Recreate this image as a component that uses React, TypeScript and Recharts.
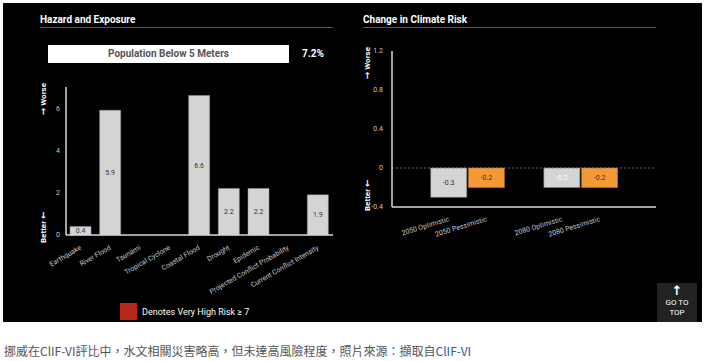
import React from 'react';
import { BarChart, Bar, XAxis, YAxis, Cell, LabelList, ReferenceLine } from 'recharts';

const hazardCategories = ['Earthquake', 'River Flood', 'Tsunami', 'Tropical Cyclone', 'Coastal Flood', 'Drought', 'Epidemic', 'Projected Conflict Probability', 'Current Conflict Intensity'];
const hazardValues = [0.4, 5.9, 0, 0, 6.6, 2.2, 2.2, 0, 1.9];
const hazardTicks = [0, 2, 4, 6];

const riskCategories = ['', '2050 Optimistic', '2050 Pessimistic', ' ', '2080 Optimistic', '2080 Pessimistic', '  '];
const riskValues: (number | null)[] = [null, -0.3, -0.2, null, -0.2, -0.2, null];
const riskScenario = ['', 'optimistic', 'pessimistic', '', 'optimistic', 'pessimistic', ''];
const riskTicks = [-0.4, 0, 0.4, 0.8, 1.2];

const populationLabel = 'Population Below 5 Meters';
const populationValue = '7.2%';

const hazardData = hazardCategories.map((name, i) => ({ name, value: hazardValues[i] }));
const riskData = riskCategories.map((name, i) => ({ name, value: riskValues[i], scenario: riskScenario[i] }));

const FONT = 'Roboto, "Noto Sans", sans-serif';
const ARROW_FONT = '"DejaVu Sans", sans-serif';
const GRAY = '#d4d4d4';
const ORANGE = '#f39a36';
const AXIS = '#d8d8d8';

const LeftTick = (props: any) => {
  const { x, y, payload } = props;
  const tx = x + 1;
  const ty = y + 6;
  return (
    <text x={tx} y={ty} transform={`rotate(-30 ${tx} ${ty})`} textAnchor="end" fill="#c8c8c8" fontSize={7} fontFamily={FONT}>
      {payload.value}
    </text>
  );
};

const RightTick = (props: any) => {
  const { x, y, payload } = props;
  const tx = x + 1;
  const ty = y + 6;
  return (
    <text x={tx} y={ty} transform={`rotate(-17 ${tx} ${ty})`} textAnchor="end" fill="#c8c8c8" fontSize={7} fontFamily={FONT}>
      {payload.value}
    </text>
  );
};

const makeSideLabel = (dxBase: number, topOff: number, botOff: number) => (props: any) => {
  const vb = props.viewBox || {};
  const x0 = vb.x + dxBase;
  const yTop = vb.y + topOff;
  const yBot = vb.y + vb.height + botOff;
  return (
    <g>
      <text x={x0} y={yTop} transform={`rotate(-90 ${x0} ${yTop})`} textAnchor="end" fill="#fff" fontSize={8} fontWeight={700} fontFamily={FONT}>
        <tspan fontFamily={ARROW_FONT} fontSize={9}>→</tspan> Worse
      </text>
      <text x={x0} y={yBot} transform={`rotate(-90 ${x0} ${yBot})`} textAnchor="start" fill="#fff" fontSize={8} fontWeight={700} fontFamily={FONT}>
        Better <tspan fontFamily={ARROW_FONT} fontSize={9}>←</tspan>
      </text>
    </g>
  );
};

const HazardLabel = (props: any) => {
  const { x, y, width, height, value } = props;
  if (value === 0) {
    return (
      <text x={x + width / 2} y={y - 0.5} textAnchor="middle" fill="#777" fontSize={4} fontFamily={FONT}>
        0.0
      </text>
    );
  }
  return (
    <text x={x + width / 2} y={y + height / 2} dy={2.5} textAnchor="middle" fill="#333" fontSize={7} fontFamily={FONT}>
      {value}
    </text>
  );
};

const RiskLabel = (props: any) => {
  const { x, y, width, height, value, index } = props;
  if (value === null || value === undefined) return null;
  const fill = riskScenario[index] === 'pessimistic' ? '#fff' : '#333';
  return (
    <text x={x + width / 2} y={y + height / 2} dy={2.5} textAnchor="middle" fill={fill} fontSize={7} fontFamily={FONT}>
      {value}
    </text>
  );
};

export default function App() {
  return (
    <div style={{ position: 'absolute', left: 0, top: 0, width: 709, height: 361, background: '#fff', overflow: 'hidden', fontFamily: FONT }}>
      <div style={{ position: 'absolute', left: 3, top: 3, width: 699, height: 319, background: '#000' }} />

      {/* Left panel header */}
      <div style={{ position: 'absolute', left: 40, top: 14, color: '#fff', fontSize: 10, fontWeight: 700, lineHeight: '12px' }}>Hazard and Exposure</div>
      <div style={{ position: 'absolute', left: 40, top: 27, width: 293, height: 1, background: '#555' }} />
      <div style={{ position: 'absolute', left: 48, top: 45, width: 241, height: 18, background: '#fff', color: '#555', fontSize: 10, fontWeight: 700, lineHeight: '18px', textAlign: 'center' }}>
        {populationLabel}
      </div>
      <div style={{ position: 'absolute', left: 302, top: 48, color: '#fff', fontSize: 10, fontWeight: 700, lineHeight: '12px' }}>{populationValue}</div>

      {/* Right panel header */}
      <div style={{ position: 'absolute', left: 363, top: 14, color: '#fff', fontSize: 10, fontWeight: 700, lineHeight: '12px' }}>Change in Climate Risk</div>
      <div style={{ position: 'absolute', left: 363, top: 27, width: 293, height: 1, background: '#555' }} />

      {/* Left chart */}
      <div style={{ position: 'absolute', left: 0, top: 0 }}>
        <BarChart width={340} height={300} data={hazardData} margin={{ top: 87, right: 7, left: 36, bottom: 0 }} style={{ overflow: 'visible' }}>
          <XAxis dataKey="name" interval={0} height={65} tick={<LeftTick />} tickLine={false} axisLine={{ stroke: AXIS, strokeWidth: 1.5 }} />
          <YAxis
            type="number"
            domain={[0, 7]}
            ticks={hazardTicks}
            width={30}
            tickLine={false}
            tickMargin={0}
            axisLine={{ stroke: AXIS, strokeWidth: 1.5 }}
            tick={{ fill: '#c8c8c8', fontSize: 7, fontFamily: FONT }}
            label={{ content: makeSideLabel(10, -4, 8) } as any}
          />
          <Bar dataKey="value" fill={GRAY} stroke="#9a9a9a" strokeWidth={0.5} barSize={21} isAnimationActive={false}>
            <LabelList dataKey="value" content={<HazardLabel />} />
          </Bar>
        </BarChart>
      </div>

      {/* Right chart */}
      <div style={{ position: 'absolute', left: 355, top: 0 }}>
        <BarChart width={310} height={300} data={riskData} margin={{ top: 51, right: 9, left: 7, bottom: 0 }} style={{ overflow: 'visible' }}>
          <XAxis dataKey="name" interval={0} height={93} tick={<RightTick />} tickLine={false} axisLine={{ stroke: AXIS, strokeWidth: 1.5 }} />
          <YAxis
            type="number"
            domain={[-0.4, 1.2]}
            ticks={riskTicks}
            width={30}
            tickLine={false}
            tickMargin={3}
            axisLine={{ stroke: AXIS, strokeWidth: 1.5 }}
            tick={{ fill: '#c8c8c8', fontSize: 7, fontFamily: FONT }}
            label={{ content: makeSideLabel(8, -4, 4) } as any}
          />
          <ReferenceLine y={0} stroke="#888" strokeDasharray="2 2" strokeWidth={0.8} />
          <Bar dataKey="value" barSize={36} stroke="#8a8a8a" strokeWidth={0.5} isAnimationActive={false}>
            {riskData.map((d, i) => (
              <Cell key={i} fill={d.scenario === 'pessimistic' ? ORANGE : GRAY} stroke={d.scenario === 'pessimistic' ? '#c77a25' : '#8a8a8a'} />
            ))}
            <LabelList dataKey="value" content={<RiskLabel />} />
          </Bar>
        </BarChart>
      </div>

      {/* Legend */}
      <div style={{ position: 'absolute', left: 120, top: 303, width: 17, height: 17, background: '#b8271a' }} />
      <div style={{ position: 'absolute', left: 142, top: 306, color: '#fff', fontSize: 9, lineHeight: '12px' }}>Denotes Very High Risk ≥ 7</div>

      {/* Go to top */}
      <div style={{ position: 'absolute', left: 657, top: 283, width: 40, height: 39, background: '#222', color: '#fff', textAlign: 'center', fontSize: 8, lineHeight: '10px' }}>
        <div style={{ fontSize: 13, fontWeight: 700, lineHeight: '15px', fontFamily: ARROW_FONT }}>↑</div>
        <div>GO TO</div>
        <div>TOP</div>
      </div>

      {/* Caption */}
      <div style={{ position: 'absolute', left: 4, top: 343, color: '#555', fontSize: 12, lineHeight: '15px', fontFamily: '"Noto Sans CJK TC", "Noto Sans", sans-serif', whiteSpace: 'nowrap' }}>
        挪威在ClIF-VI評比中，水文相關災害略高，但未達高風險程度，照片來源：擷取自<span style={{ color: '#2b5aa8' }}>ClIF-VI</span>
      </div>
    </div>
  );
}
